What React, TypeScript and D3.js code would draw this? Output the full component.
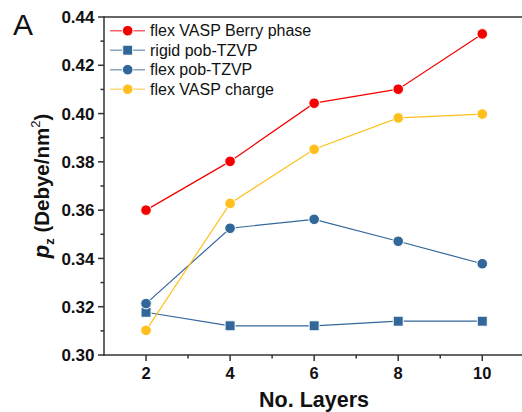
import React, { useEffect, useRef } from 'react';
import * as d3 from 'd3';

const layers = [2, 4, 6, 8, 10];
const berryFlex = [0.360, 0.3802, 0.4043, 0.4101, 0.4330];
const rigidPob = [0.3177, 0.3121, 0.3121, 0.3140, 0.3140];
const flexPob = [0.3213, 0.3525, 0.3562, 0.3471, 0.3378];
const chargeFlex = [0.3102, 0.3628, 0.3852, 0.3982, 0.3998];

const seriesNames = ['flex VASP Berry phase', 'rigid pob-TZVP', 'flex pob-TZVP', 'flex VASP charge'];
const seriesColors = ['#f50000', '#32679a', '#32679a', '#ffc01e'];
const seriesShapes = ['circle', 'square', 'circle', 'circle'];

const yTicks = [0.30, 0.32, 0.34, 0.36, 0.38, 0.40, 0.42, 0.44];
const yMinor = [0.31, 0.33, 0.35, 0.37, 0.39, 0.41, 0.43];
const xTicks = [2, 4, 6, 8, 10];
const xMinor = [3, 5, 7, 9];

const FONT = '"Liberation Sans", Arial, sans-serif';

export default function App() {
  const svgRef = useRef<SVGSVGElement>(null);

  useEffect(() => {
    if (!svgRef.current) return;
    const width = 522;
    const height = 412;
    const svg = d3.select(svgRef.current).attr('width', width).attr('height', height);
    svg.selectAll('*').remove();

    const x = d3.scaleLinear().domain([1, 11]).range([104, 524.3]);
    const y = d3.scaleLinear().domain([0.30, 0.44]).range([355, 17]);
    const axisColor = '#333';

    // frame top line
    svg.append('line')
      .attr('x1', x(1)).attr('x2', width).attr('y1', y(0.44)).attr('y2', y(0.44))
      .attr('stroke', axisColor).attr('stroke-width', 1.5);

    // bottom axis
    svg.append('line')
      .attr('x1', x(1) - 1).attr('x2', width).attr('y1', y(0.30)).attr('y2', y(0.30))
      .attr('stroke', axisColor).attr('stroke-width', 1.5);
    svg.selectAll('.xmaj').data(xTicks).enter().append('line')
      .attr('x1', d => x(d)).attr('x2', d => x(d))
      .attr('y1', y(0.30)).attr('y2', y(0.30) + 6)
      .attr('stroke', axisColor).attr('stroke-width', 1.5);
    svg.selectAll('.xmin').data(xMinor).enter().append('line')
      .attr('x1', d => x(d)).attr('x2', d => x(d))
      .attr('y1', y(0.30)).attr('y2', y(0.30) + 3.5)
      .attr('stroke', axisColor).attr('stroke-width', 1.5);
    svg.selectAll('.xlab').data(xTicks).enter().append('text')
      .attr('x', d => x(d)).attr('y', 379)
      .attr('text-anchor', 'middle')
      .attr('font-family', FONT).attr('font-weight', 'bold').attr('font-size', 16.5)
      .attr('fill', '#111')
      .text(d => d);
    svg.append('text')
      .attr('x', 314).attr('y', 407)
      .attr('text-anchor', 'middle')
      .attr('font-family', FONT).attr('font-weight', 'bold').attr('font-size', 21.5)
      .attr('fill', '#111')
      .text('No. Layers');

    // left axis
    svg.append('line')
      .attr('x1', x(1)).attr('x2', x(1)).attr('y1', y(0.44) - 0.75).attr('y2', y(0.30) + 0.75)
      .attr('stroke', axisColor).attr('stroke-width', 1.5);
    svg.selectAll('.ymaj').data(yTicks).enter().append('line')
      .attr('x1', x(1) - 6).attr('x2', x(1))
      .attr('y1', d => y(d)).attr('y2', d => y(d))
      .attr('stroke', axisColor).attr('stroke-width', 1.5);
    svg.selectAll('.ymin').data(yMinor).enter().append('line')
      .attr('x1', x(1) - 3.5).attr('x2', x(1))
      .attr('y1', d => y(d)).attr('y2', d => y(d))
      .attr('stroke', axisColor).attr('stroke-width', 1.5);
    svg.selectAll('.ylab').data(yTicks).enter().append('text')
      .attr('x', 94.5).attr('y', d => y(d)).attr('dy', '0.36em')
      .attr('text-anchor', 'end')
      .attr('font-family', FONT).attr('font-weight', 'bold').attr('font-size', 17)
      .attr('fill', '#111')
      .text(d => d3.format('.2f')(d));

    const ylab = svg.append('text')
      .attr('transform', 'translate(49,186) rotate(-90)')
      .attr('text-anchor', 'middle')
      .attr('font-family', FONT).attr('font-weight', 'bold').attr('font-size', 20.5)
      .attr('fill', '#111');
    ylab.append('tspan').attr('font-style', 'italic').attr('font-size', 22).text('p');
    ylab.append('tspan').attr('font-size', 13).attr('dy', 5).text('z');
    ylab.append('tspan').attr('dy', -5).text(' (Debye/nm');
    ylab.append('tspan').attr('font-size', 13).attr('font-weight', 'normal').attr('dy', -9).text('2');
    ylab.append('tspan').attr('dy', 9).text(')');

    // panel letter
    svg.append('text')
      .attr('x', 13).attr('y', 35)
      .attr('font-family', FONT).attr('font-size', 30)
      .attr('fill', '#111')
      .text('A');

    const allSeries = [berryFlex, rigidPob, flexPob, chargeFlex];
    const line = d3.line<number>().x((_, i) => x(layers[i])).y(d => y(d));

    const drawMarker = (g: any, shape: string, color: string, cx: number, cy: number) => {
      if (shape === 'square') {
        g.append('rect')
          .attr('x', cx - 5).attr('y', cy - 5).attr('width', 10).attr('height', 10)
          .attr('fill', color).attr('stroke', '#fff').attr('stroke-width', 1);
      } else {
        g.append('circle')
          .attr('cx', cx).attr('cy', cy).attr('r', 5.3)
          .attr('fill', color).attr('stroke', '#fff').attr('stroke-width', 1);
      }
    };

    const plotOrder = [1, 2, 3, 0];
    plotOrder.forEach(si => {
      const vals = allSeries[si];
      const g = svg.append('g');
      g.append('path')
        .attr('d', line(vals))
        .attr('fill', 'none')
        .attr('stroke', seriesColors[si])
        .attr('stroke-width', 1.2);
      vals.forEach((v, i) => drawMarker(g, seriesShapes[si], seriesColors[si], x(layers[i]), y(v)));
    });

    // legend
    const legend = svg.append('g');
    seriesNames.forEach((name, i) => {
      const ly = 30.7 + i * 19.5;
      legend.append('line')
        .attr('x1', 110).attr('x2', 145).attr('y1', ly).attr('y2', ly)
        .attr('stroke', seriesColors[i]).attr('stroke-width', 1.4).attr('stroke-opacity', 0.6);
      drawMarker(legend, seriesShapes[i], seriesColors[i], 127.7, ly);
      legend.append('text')
        .attr('x', 150).attr('y', ly).attr('dy', '0.36em')
        .attr('font-family', FONT).attr('font-size', 16)
        .attr('fill', '#111')
        .text(name);
    });
  }, []);

  return (
    <div style={{ position: 'absolute', left: 0, top: 0, width: 522, height: 412, background: '#fff' }}>
      <svg ref={svgRef} style={{ display: 'block' }} />
    </div>
  );
}
